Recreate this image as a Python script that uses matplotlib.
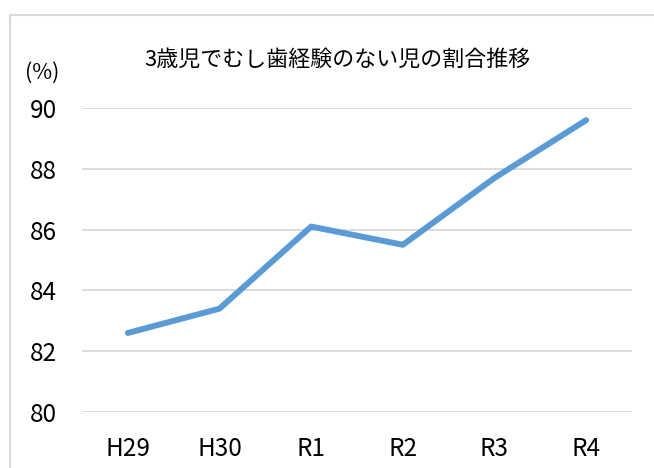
import matplotlib
matplotlib.use('Agg')
import matplotlib.pyplot as plt
from matplotlib.patches import Rectangle

plt.rcParams['font.family'] = ['Noto Sans CJK JP', 'DejaVu Sans']

years = ['H29', 'H30', 'R1', 'R2', 'R3', 'R4']
rate = [82.6, 83.4, 86.1, 85.5, 87.7, 89.6]
title = '3歳児でむし歯経験のない児の割合推移'

W, H = 654, 468
fig = plt.figure(figsize=(W / 100, H / 100), dpi=100)

# outer chart frame (left/top edges visible, rest cut off)
fig.patches.append(Rectangle((10 / W, -0.1), 1.2, (H - 15) / H + 0.1,
                             transform=fig.transFigure, fill=False,
                             edgecolor='#d9d9d9', linewidth=1.5))

ax = fig.add_axes([82 / W, (H - 412) / H, (632 - 82) / W, (412 - 108) / H])
x = list(range(len(years)))
ax.plot(x, rate, color='#5b9bd5', linewidth=4.3, solid_capstyle='round',
        solid_joinstyle='round', zorder=3)

ax.set_xlim(-0.5, len(years) - 0.5)
ax.set_ylim(80, 90)
ax.set_yticks([80, 82, 84, 86, 88, 90])
ax.set_xticks(x)
ax.set_xticklabels(years)
ax.grid(axis='y', color='#d9d9d9', linewidth=1.3)
ax.set_axisbelow(True)
for s in ax.spines.values():
    s.set_visible(False)
ax.tick_params(axis='both', length=0, labelsize=17.5, colors='black')
ax.tick_params(axis='y', pad=18)
ax.tick_params(axis='x', pad=17)

fig.text(337 / W, 1 - 60 / H, title, ha='center', va='center', fontsize=15.8)
fig.text(42 / W, 1 - 73 / H, '(%)', ha='center', va='center', fontsize=15.5)

fig.savefig('out.png', dpi=100)
